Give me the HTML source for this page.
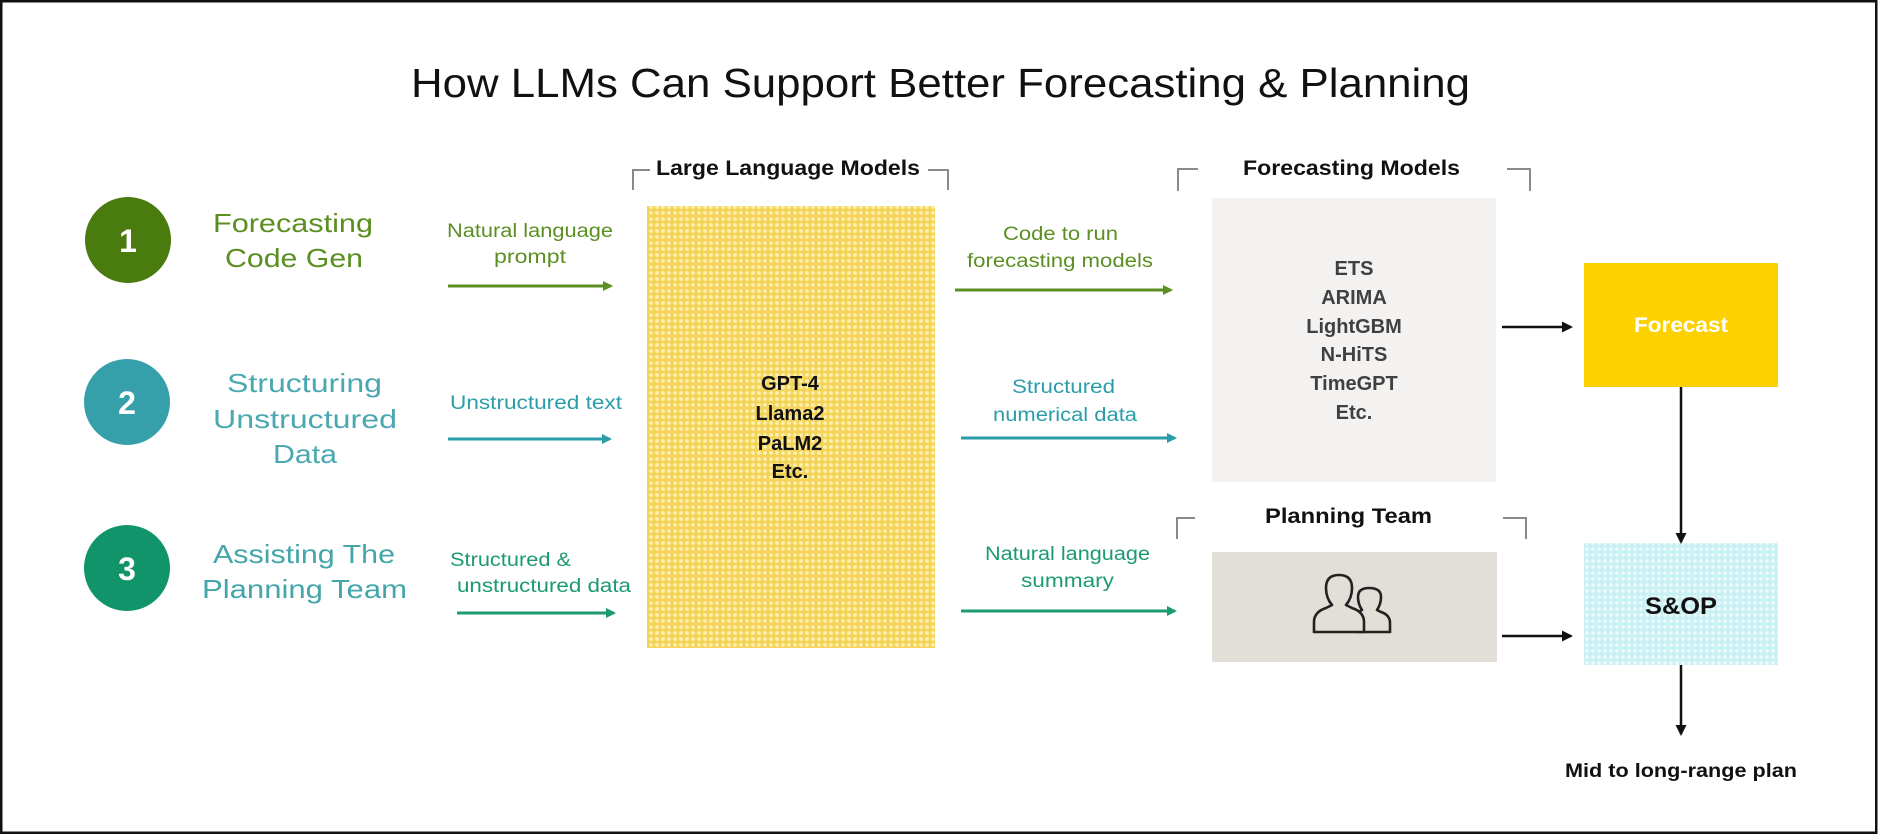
<!DOCTYPE html>
<html><head><meta charset="utf-8"><style>
html,body{margin:0;padding:0;background:#fff;}
svg{display:block;}
text{font-family:"Liberation Sans",Arial,sans-serif;}
</style></head><body>
<svg width="1879" height="835" viewBox="0 0 1879 835" xmlns="http://www.w3.org/2000/svg">
<defs>
<pattern id="py" width="6" height="6" patternUnits="userSpaceOnUse">
<rect width="6" height="6" fill="#F4D457"/>
<circle cx="3" cy="3" r="1.9" fill="#FDEFB0"/>
</pattern>
<pattern id="pc" width="6" height="6" patternUnits="userSpaceOnUse">
<rect width="6" height="6" fill="#C9F1F4"/>
<circle cx="3" cy="3" r="1.9" fill="#EBFAFB"/>
</pattern>
<marker id="ag" markerWidth="10" markerHeight="10" refX="8" refY="5" orient="auto" markerUnits="userSpaceOnUse"><path d="M0,0 L10,5 L0,10 Z" fill="#5B8F22"/></marker>
<marker id="at" markerWidth="10" markerHeight="10" refX="8" refY="5" orient="auto" markerUnits="userSpaceOnUse"><path d="M0,0 L10,5 L0,10 Z" fill="#2A9DA8"/></marker>
<marker id="ae" markerWidth="10" markerHeight="10" refX="8" refY="5" orient="auto" markerUnits="userSpaceOnUse"><path d="M0,0 L10,5 L0,10 Z" fill="#1C9A74"/></marker>
<marker id="ab" markerWidth="11" markerHeight="11" refX="9" refY="5.5" orient="auto" markerUnits="userSpaceOnUse"><path d="M0,0 L11,5.5 L0,11 Z" fill="#111"/></marker>
</defs>

<rect x="1.25" y="1.25" width="1875" height="831.5" fill="#fff" stroke="#111" stroke-width="2.5"/>

<!-- Title -->
<text x="411" y="97" font-size="41" fill="#111" textLength="1059" lengthAdjust="spacingAndGlyphs">How LLMs Can Support Better Forecasting &amp; Planning</text>

<!-- Circles -->
<circle cx="128" cy="240" r="43" fill="#4A7B0F"/>
<text x="128" y="252" font-size="32" font-weight="bold" fill="#fff" text-anchor="middle">1</text>
<circle cx="127" cy="402" r="43" fill="#36A0AA"/>
<text x="127" y="414" font-size="32" font-weight="bold" fill="#fff" text-anchor="middle">2</text>
<circle cx="127" cy="568" r="43" fill="#12946B"/>
<text x="127" y="580" font-size="32" font-weight="bold" fill="#fff" text-anchor="middle">3</text>

<!-- Left labels -->
<g font-size="26">
<text x="213" y="232" fill="#5B8F22" textLength="160" lengthAdjust="spacingAndGlyphs">Forecasting</text>
<text x="225" y="267" fill="#5B8F22" textLength="138" lengthAdjust="spacingAndGlyphs">Code Gen</text>
<text x="227" y="392" fill="#4AA8B0" textLength="155" lengthAdjust="spacingAndGlyphs">Structuring</text>
<text x="213" y="428" fill="#4AA8B0" textLength="184" lengthAdjust="spacingAndGlyphs">Unstructured</text>
<text x="273" y="463" fill="#4AA8B0" textLength="64" lengthAdjust="spacingAndGlyphs">Data</text>
<text x="213" y="563" fill="#45A6AA" textLength="182" lengthAdjust="spacingAndGlyphs">Assisting The</text>
<text x="202" y="598" fill="#45A6AA" textLength="205" lengthAdjust="spacingAndGlyphs">Planning Team</text>
</g>

<!-- Arrow labels -->
<g font-size="19">
<text x="447" y="237" fill="#5B8F22" textLength="166" lengthAdjust="spacingAndGlyphs">Natural language</text>
<text x="494" y="263" fill="#5B8F22" textLength="72" lengthAdjust="spacingAndGlyphs">prompt</text>
<text x="450" y="409" fill="#2A9DA8" textLength="172" lengthAdjust="spacingAndGlyphs">Unstructured text</text>
<text x="450" y="566" fill="#1C9A74" textLength="121" lengthAdjust="spacingAndGlyphs">Structured &amp;</text>
<text x="457" y="592" fill="#1C9A74" textLength="174" lengthAdjust="spacingAndGlyphs">unstructured data</text>

<text x="1003" y="240" fill="#5B8F22" textLength="115" lengthAdjust="spacingAndGlyphs">Code to run</text>
<text x="967" y="267" fill="#5B8F22" textLength="186" lengthAdjust="spacingAndGlyphs">forecasting models</text>
<text x="1012" y="393" fill="#2A9DA8" textLength="103" lengthAdjust="spacingAndGlyphs">Structured</text>
<text x="993" y="421" fill="#2A9DA8" textLength="144" lengthAdjust="spacingAndGlyphs">numerical data</text>
<text x="985" y="560" fill="#1C9A74" textLength="165" lengthAdjust="spacingAndGlyphs">Natural language</text>
<text x="1021" y="587" fill="#1C9A74" textLength="93" lengthAdjust="spacingAndGlyphs">summary</text>
</g>

<!-- Colored arrows -->
<g stroke-width="3">
<line x1="448" y1="286" x2="611" y2="286" stroke="#5B8F22" marker-end="url(#ag)"/>
<line x1="448" y1="439" x2="610" y2="439" stroke="#2A9DA8" marker-end="url(#at)"/>
<line x1="457" y1="613" x2="614" y2="613" stroke="#1C9A74" marker-end="url(#ae)"/>
<line x1="955" y1="290" x2="1171" y2="290" stroke="#5B8F22" marker-end="url(#ag)"/>
<line x1="961" y1="438" x2="1175" y2="438" stroke="#2A9DA8" marker-end="url(#at)"/>
<line x1="961" y1="611" x2="1175" y2="611" stroke="#1C9A74" marker-end="url(#ae)"/>
</g>

<!-- Brackets -->
<g fill="none" stroke="#8A8A8A" stroke-width="2">
<path d="M650,170 L633,170 L633,190"/>
<path d="M928,170 L948,170 L948,190"/>
<path d="M1198,169 L1178,169 L1178,191"/>
<path d="M1507,169 L1530,169 L1530,191"/>
<path d="M1195,518 L1177,518 L1177,539"/>
<path d="M1503,518 L1526,518 L1526,539"/>
</g>
<g font-size="21" font-weight="bold" fill="#111">
<text x="656" y="175" textLength="264" lengthAdjust="spacingAndGlyphs">Large Language Models</text>
<text x="1243" y="175" textLength="217" lengthAdjust="spacingAndGlyphs">Forecasting Models</text>
<text x="1265" y="523" textLength="167" lengthAdjust="spacingAndGlyphs">Planning Team</text>
</g>

<!-- LLM box -->
<rect x="647" y="206" width="288" height="442" fill="url(#py)"/>
<g font-size="20" font-weight="bold" fill="#111" text-anchor="middle">
<text x="790" y="390">GPT-4</text>
<text x="790" y="420">Llama2</text>
<text x="790" y="450">PaLM2</text>
<text x="790" y="478">Etc.</text>
</g>

<!-- Forecasting models box -->
<rect x="1212" y="198" width="284" height="284" fill="#F3F2F0"/>
<g font-size="20" font-weight="bold" fill="#404040" text-anchor="middle">
<text x="1354" y="275">ETS</text>
<text x="1354" y="304">ARIMA</text>
<text x="1354" y="333">LightGBM</text>
<text x="1354" y="361">N-HiTS</text>
<text x="1354" y="390">TimeGPT</text>
<text x="1354" y="419">Etc.</text>
</g>

<!-- Planning team box -->
<rect x="1212" y="552" width="285" height="110" fill="#E2DED8"/>
<g fill="#E2DED8" stroke="#222" stroke-width="2.6" stroke-linejoin="round">
<path d="M1357,632 L1390,632 L1390,623 Q1390,615 1381,612 L1377,610 Q1381,604 1381,597 Q1381,588 1369,588 Q1358,588 1358,597 Q1358,604 1362,610 L1358,612"/>
<path d="M1314,632 L1364,632 L1364,622 Q1364,612 1352,608 L1346,605 Q1352,598 1352,588 Q1352,575 1339,575 Q1326,575 1326,588 Q1326,598 1332,605 L1326,608 Q1314,612 1314,622 Z"/>
</g>

<!-- Forecast box -->
<rect x="1584" y="263" width="194" height="124" fill="#FDD000"/>
<text x="1681" y="332" font-size="21" font-weight="bold" fill="#fff" text-anchor="middle" textLength="94" lengthAdjust="spacingAndGlyphs">Forecast</text>

<!-- S&OP box -->
<rect x="1584" y="543" width="194" height="122" fill="url(#pc)"/>
<text x="1681" y="614" font-size="24" font-weight="bold" fill="#111" text-anchor="middle" textLength="72" lengthAdjust="spacingAndGlyphs">S&amp;OP</text>

<!-- Black arrows -->
<g stroke="#111" stroke-width="2.5">
<line x1="1502" y1="327" x2="1571" y2="327" marker-end="url(#ab)"/>
<line x1="1681" y1="387" x2="1681" y2="542" marker-end="url(#ab)"/>
<line x1="1502" y1="636" x2="1571" y2="636" marker-end="url(#ab)"/>
<line x1="1681" y1="665" x2="1681" y2="734" marker-end="url(#ab)"/>
</g>

<text x="1565" y="777" font-size="19" font-weight="bold" fill="#111" textLength="232" lengthAdjust="spacingAndGlyphs">Mid to long-range plan</text>
</svg>
</body></html>
